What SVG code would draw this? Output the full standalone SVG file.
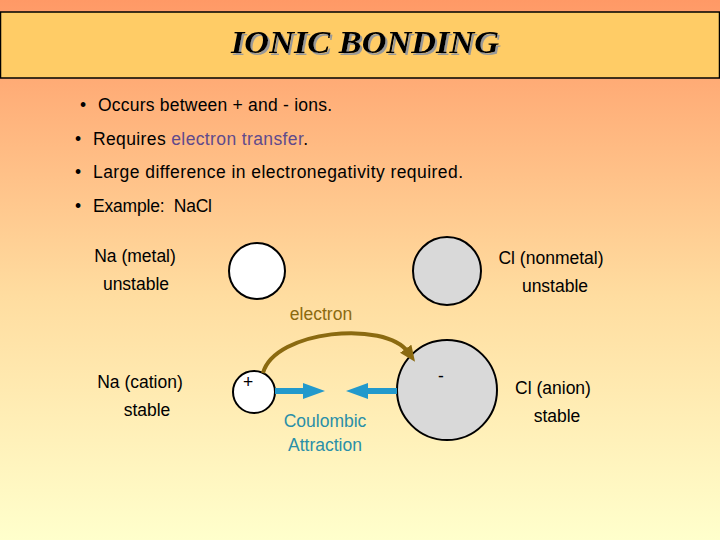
<svg xmlns="http://www.w3.org/2000/svg" width="720" height="540" viewBox="0 0 720 540">
<defs>
<linearGradient id="bg" x1="0" y1="0" x2="0" y2="1">
<stop offset="0" stop-color="#FF9966"/>
<stop offset="0.55" stop-color="#FFDDA0"/>
<stop offset="1" stop-color="#FFFFCC"/>
</linearGradient>
<filter id="shadow" x="-5%" y="-20%" width="110%" height="140%">
<feDropShadow dx="2" dy="2" stdDeviation="0" flood-color="#999" flood-opacity="1"/>
</filter>
<marker id="blueHead" markerUnits="userSpaceOnUse" markerWidth="22" markerHeight="16" refX="0" refY="8" orient="auto">
<path d="M0,0 L22,8 L0,16 z" fill="#2299CC"/>
</marker>
<marker id="oliveHead" markerUnits="userSpaceOnUse" markerWidth="16" markerHeight="14" refX="4" refY="7" orient="auto">
<path d="M0,0 L16,7 L0,14 z" fill="#8B6A10"/>
</marker>
</defs>
<style>
.t{font-family:"Liberation Sans",Arial,sans-serif;font-size:17.5px;fill:#000}
.c{text-anchor:middle}
.atom{stroke:#000;stroke-width:2}
</style>
<rect x="0" y="0" width="720" height="540" fill="url(#bg)"/>
<g id="title">
<rect x="0.5" y="12" width="719" height="66" fill="#FFCC66" stroke="#000" stroke-width="1.5"/>
<text x="365" y="53" text-anchor="middle" font-family="Liberation Serif,serif" font-weight="bold" font-style="italic" font-size="32" textLength="268" lengthAdjust="spacingAndGlyphs" fill="#000" filter="url(#shadow)">IONIC BONDING</text>
</g>
<g id="bullets" class="t">
<text x="80" y="111">•</text><text x="98" y="111" textLength="234">Occurs between + and - ions.</text>
<text x="75" y="145">•</text><text x="93" y="145" textLength="215">Requires <tspan fill="#604A8C">electron transfer</tspan>.</text>
<text x="75" y="178">•</text><text x="93" y="178" textLength="370">Large difference in electronegativity required.</text>
<text x="75" y="212">•</text><text x="93" y="212" textLength="119">Example:&#160; NaCl</text>
</g>
<g id="na-atom">
<circle class="atom" cx="257" cy="271" r="28" fill="#fff"/>
<text class="t c" x="135" y="262">Na (metal)</text>
<text class="t c" x="136" y="290">unstable</text>
</g>
<g id="cl-atom">
<circle class="atom" cx="447" cy="271" r="34" fill="#D9D9D9"/>
<text class="t c" x="551" y="264">Cl (nonmetal)</text>
<text class="t c" x="555" y="292">unstable</text>
</g>
<g id="na-ion">
<circle class="atom" cx="254" cy="392" r="21" fill="#fff"/>
<text class="t c" x="248" y="388">+</text>
<text class="t c" x="140" y="388">Na (cation)</text>
<text class="t c" x="147" y="416">stable</text>
</g>
<g id="cl-ion">
<circle class="atom" cx="447" cy="390" r="50" fill="#D9D9D9"/>
<text class="t c" x="441" y="382">-</text>
<text class="t c" x="553" y="394">Cl (anion)</text>
<text class="t c" x="557" y="422">stable</text>
</g>
<g id="connectors">
<path d="M263,373 C275,330 385,320 408,352" fill="none" stroke="#8B6A10" stroke-width="4" marker-end="url(#oliveHead)"/>
<text class="t c" x="321" y="320" style="fill:#8B6A10">electron</text>
<line x1="275" y1="391" x2="303" y2="391" stroke="#2299CC" stroke-width="6" marker-end="url(#blueHead)"/>
<line x1="397" y1="391" x2="368" y2="391" stroke="#2299CC" stroke-width="6" marker-end="url(#blueHead)"/>
<text class="t c" x="325" y="427" style="fill:#2A8FA8">Coulombic</text>
<text class="t c" x="325" y="451" style="fill:#2A8FA8">Attraction</text>
</g>
</svg>
